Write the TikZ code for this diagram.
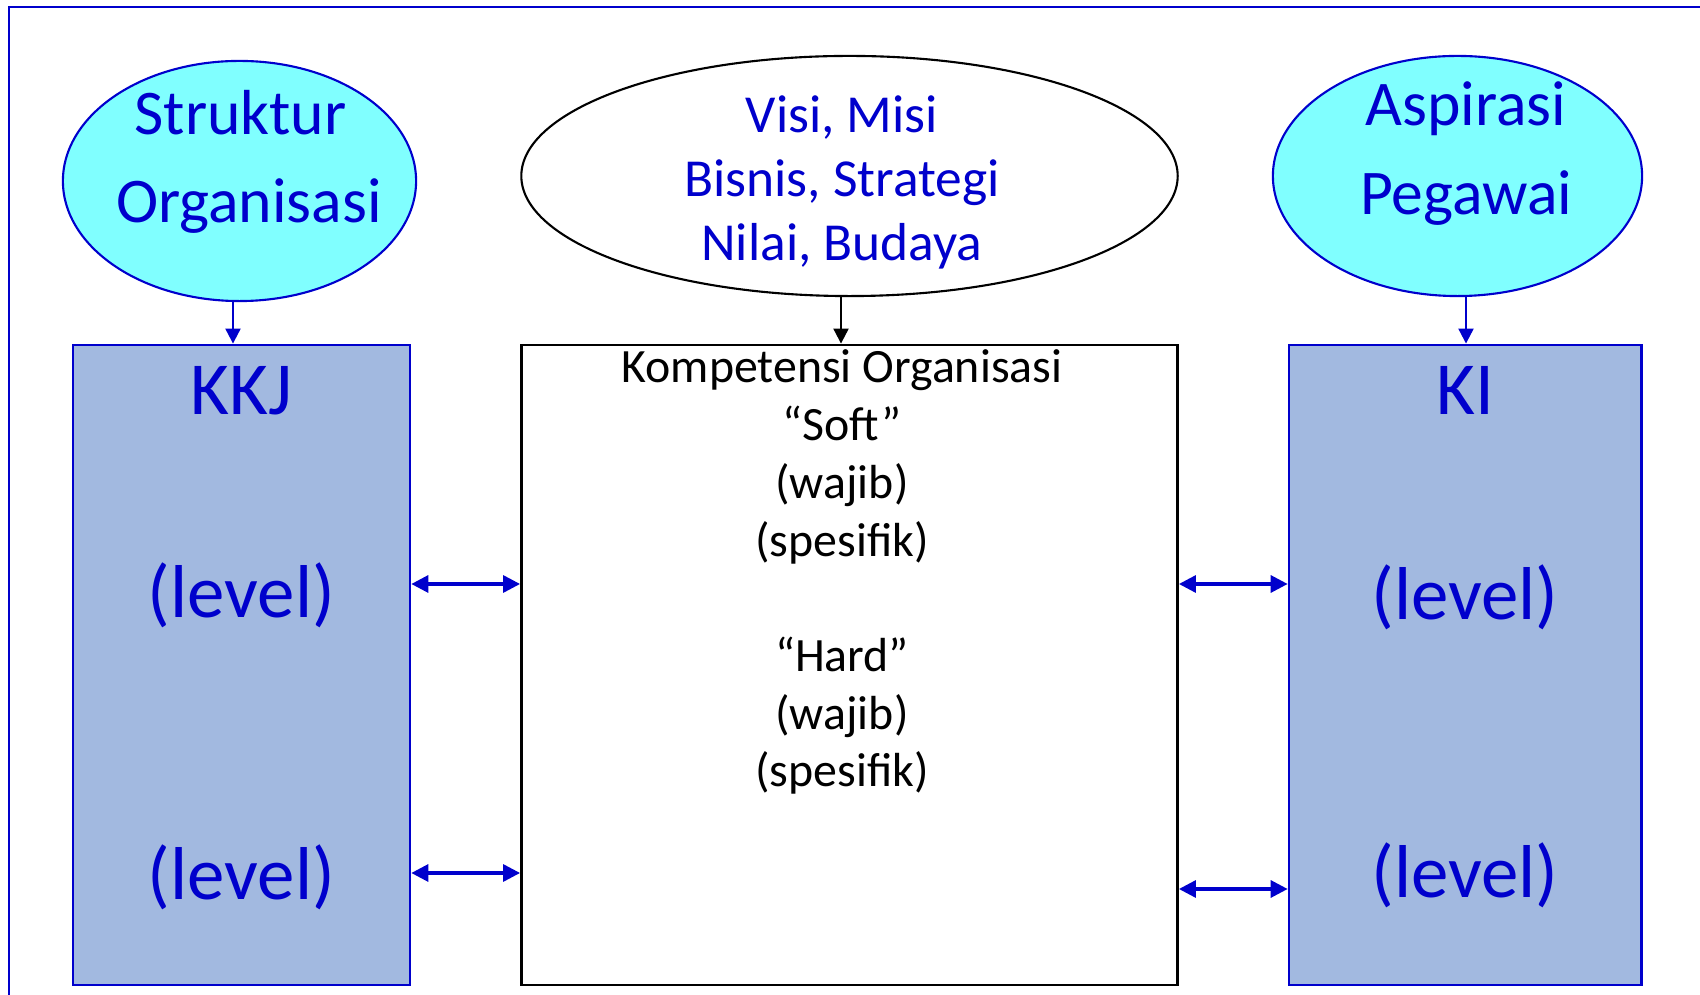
\documentclass[tikz,border=0pt]{standalone}
\usepackage{fontspec}
\setmainfont{Carlito}
\usetikzlibrary{shapes.geometric,arrows.meta}
\definecolor{txtblue}{RGB}{0,0,204}
\definecolor{ovalcyan}{RGB}{128,255,255}
\definecolor{boxblue}{RGB}{162,185,224}

\begin{document}
\begin{tikzpicture}[x=0.01cm,y=-0.01cm,
	oval/.style={ellipse,draw,line width=0.6pt,inner sep=0pt,minimum height=2.4cm},
	lvlbox/.style={rectangle,draw,line width=0.7pt,inner sep=0pt,minimum height=6.4cm},
	arr/.style={-{Triangle[length=0.15cm,width=0.15cm]},line width=0.6pt},
	dblarr/.style={{Triangle[length=0.17cm,width=0.17cm]}-{Triangle[length=0.17cm,width=0.17cm]},draw=txtblue,line width=0.9pt}]
	\useasboundingbox (0,0) rectangle (1700,995);
	\draw[txtblue,line width=0.5pt] (9,995)--(9,7)--(1700,7);

	%ovals
	\node[oval,draw=txtblue,fill=ovalcyan,minimum width=3.53cm] (sorg) at (239.5,181) {};
	\node[oval,draw=black,fill=white,minimum width=6.56cm] (visi) at (849.5,176) {};
	\node[oval,draw=txtblue,fill=ovalcyan,minimum width=3.69cm] (asp) at (1457.5,176) {};

	%boxes
	\node[lvlbox,draw=txtblue,fill=boxblue,minimum width=3.37cm] (kkj) at (241.5,665) {};
	\node[lvlbox,draw=black,fill=white,minimum width=6.56cm] (komp) at (849.5,665) {};
	\node[lvlbox,draw=txtblue,fill=boxblue,minimum width=3.525cm] (ki) at (1465.25,665) {};

	%oval texts
	\node[anchor=base,txtblue,font=\fontsize{18.1}{22}\selectfont] (sorg1) at (240.5,135) {Struktur};
	\node[anchor=base,txtblue,font=\fontsize{18.1}{22}\selectfont] (sorg2) at (249,223) {Organisasi};
	\foreach \t/\y [count=\i] in {{Visi, Misi}/133,{Bisnis, Strategi}/197,{Nilai, Budaya}/261}
		\node[anchor=base,txtblue,font=\fontsize{15.2}{18}\selectfont] (visi\i) at (842,\y) {\t};
	\node[anchor=base,txtblue,font=\fontsize{18.1}{22}\selectfont] (asp1) at (1466,126) {Aspirasi};
	\node[anchor=base,txtblue,font=\fontsize{18.1}{22}\selectfont] (asp2) at (1466,215) {Pegawai};

	%box texts
	\node[anchor=base,txtblue,font=\fontsize{21.3}{25}\selectfont] (kkj1) at (241.5,415) {KKJ};
	\node[anchor=base,txtblue,font=\fontsize{21.3}{25}\selectfont] (kkj2) at (241.5,618) {(level)};
	\node[anchor=base,txtblue,font=\fontsize{21.3}{25}\selectfont] (kkj3) at (241.5,900) {(level)};
	\node[anchor=base,txtblue,font=\fontsize{21.3}{25}\selectfont] (ki1) at (1465,415) {KI};
	\node[anchor=base,txtblue,font=\fontsize{21.3}{25}\selectfont] (ki2) at (1465,620) {(level)};
	\node[anchor=base,txtblue,font=\fontsize{21.3}{25}\selectfont] (ki3) at (1465,898) {(level)};
	\foreach \t/\y [count=\i] in {Kompetensi Organisasi/383,“Soft”/441,(wajib)/499,(spesifik)/557,“Hard”/672,(wajib)/730,(spesifik)/787}
		\node[anchor=base,font=\fontsize{13.6}{16}\selectfont] (komp\i) at (842,\y) {\t};

	%arrows
	\coordinate (ax1) at (233,0);
	\coordinate (ax2) at (841,0);
	\coordinate (ax3) at (1466,0);
	\draw[arr,txtblue] (sorg.south -| ax1) -- (kkj.north -| ax1);
	\draw[arr,black] (visi.south -| ax2) -- (komp.north -| ax2);
	\draw[arr,txtblue] (asp.south -| ax3) -- (ki.north -| ax3);
	%
	\coordinate (hl1) at (0,584);
	\coordinate (hl2) at (0,873);
	\coordinate (hr1) at (0,584);
	\coordinate (hr2) at (0,889);
	\draw[dblarr] (kkj.east |- hl1) -- (komp.west |- hl1);
	\draw[dblarr] (kkj.east |- hl2) -- (komp.west |- hl2);
	\draw[dblarr] (komp.east |- hr1) -- (ki.west |- hr1);
	\draw[dblarr] (komp.east |- hr2) -- (ki.west |- hr2);
\end{tikzpicture}
\end{document}
